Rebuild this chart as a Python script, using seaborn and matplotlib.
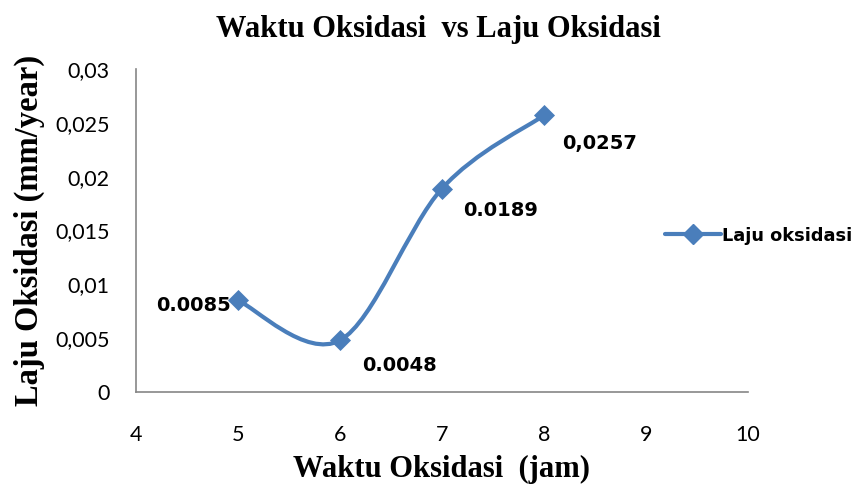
import numpy as np
import pandas as pd
import seaborn as sns
import matplotlib.pyplot as plt
from matplotlib.path import Path
from matplotlib.patches import PathPatch
from matplotlib.lines import Line2D

# data
waktu = [5, 6, 7, 8]
laju = [0.0085, 0.0048, 0.0189, 0.0257]
label_txt = ["0.0085", "0.0048", "0.0189", "0,0257"]
yticks = [0, 0.005, 0.01, 0.015, 0.02, 0.025, 0.03]
ytick_lbl = ["0", "0,005", "0,01", "0,015", "0,02", "0,025", "0,03"]
xticks = [4, 5, 6, 7, 8, 9, 10]

blue = "#4A7EBB"
grey = "#868686"

sns.set_style("white")
plt.rcParams["text.color"] = "black"
df = pd.DataFrame({"waktu": waktu, "laju": laju})

fig = plt.figure(figsize=(8.59, 4.91), dpi=100)
ax = fig.add_axes([0.1583, 0.2016, 0.8708 - 0.1583, 0.8595 - 0.2016])

# smoothed line (excel-style bezier through the points)
pts = np.array(list(zip(waktu, laju)), dtype=float)
ext = np.vstack([pts[0], pts, pts[-1]])
verts = [tuple(pts[0])]
codes = [Path.MOVETO]
for i in range(len(pts) - 1):
    p0, p1, p2, p3 = ext[i], ext[i + 1], ext[i + 2], ext[i + 3]
    c1 = p1 + (p2 - p0) / 6
    c2 = p2 - (p3 - p1) / 6
    verts += [tuple(c1), tuple(c2), tuple(p2)]
    codes += [Path.CURVE4] * 3
ax.add_patch(PathPatch(Path(verts, codes), facecolor="none", edgecolor=blue,
                       lw=3, capstyle="round", zorder=2))

sns.scatterplot(data=df, x="waktu", y="laju", marker="D", s=115, color=blue,
                edgecolor=blue, linewidth=0, ax=ax, zorder=3, legend=False)

ax.set_xlim(4, 10)
ax.set_ylim(0, 0.03)
ax.set_xticks(xticks)
ax.set_xticklabels([str(x) for x in xticks])
ax.set_yticks(yticks)
ax.set_yticklabels(ytick_lbl)
ax.tick_params(axis="both", labelsize=15.5, length=5, width=1.2, color=grey,
               direction="out", labelcolor="black")
ax.tick_params(axis="y", pad=14)
ax.tick_params(axis="x", pad=19)
for lbl in ax.get_xticklabels() + ax.get_yticklabels():
    lbl.set_family("Lato")
for side in ["top", "right"]:
    ax.spines[side].set_visible(False)
for side in ["left", "bottom"]:
    ax.spines[side].set_color(grey)
    ax.spines[side].set_linewidth(1.2)

# data labels
offs = [(-32, -3.5), (43, -18), (42, -16), (40, -20)]
for x, y, t, (dx, dy) in zip(waktu, laju, label_txt, offs):
    ax.annotate(t, (x, y), xytext=(dx, dy), textcoords="offset points",
                ha="center", va="center", fontsize=14, fontweight="bold",
                family="DejaVu Sans", color="black")

ax.set_xlabel("Waktu Oksidasi  (jam)", family="Liberation Serif",
              fontweight="bold", fontsize=22, labelpad=7, color="black")
ax.set_ylabel("Laju Oksidasi (mm/year)", family="Liberation Serif",
              fontweight="bold", fontsize=23.5, labelpad=7, color="black")
fig.suptitle("Waktu Oksidasi  vs Laju Oksidasi", family="Liberation Serif",
             fontweight="bold", fontsize=22, x=0.51, y=0.97, color="black")

handle = Line2D([], [], color=blue, lw=3, marker="D", markersize=10,
                solid_capstyle="round")
leg = fig.legend([handle], ["Laju oksidasi"], loc="center left",
                 bbox_to_anchor=(0.755, 0.52), frameon=False, handlelength=3.2,
                 handletextpad=0.05, labelcolor="black",
                 prop={"family": "DejaVu Sans", "weight": "bold", "size": 12.8})

fig.savefig("out.png", dpi=100)
